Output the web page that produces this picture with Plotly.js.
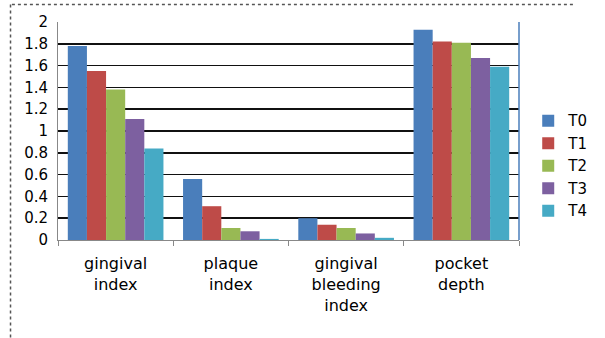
<!DOCTYPE html>
<html><head><meta charset="utf-8">
<script src="https://cdn.plot.ly/plotly-3.0.1.min.js"></script>
<style>html,body{margin:0;padding:0;background:#fff}#c{width:605px;height:338px}</style>
</head><body><div id="c"></div>
<script>
const categories = ["gingival<br>index", "plaque<br>index", "gingival<br>bleeding<br>index", "pocket<br>depth"];
const seriesNames = ["T0", "T1", "T2", "T3", "T4"];
const T0 = [1.78, 0.56, 0.20, 1.93];
const T1 = [1.55, 0.31, 0.14, 1.82];
const T2 = [1.38, 0.11, 0.11, 1.81];
const T3 = [1.11, 0.08, 0.06, 1.67];
const T4 = [0.84, 0.01, 0.02, 1.59];
const yTicks = [0, 0.2, 0.4, 0.6, 0.8, 1, 1.2, 1.4, 1.6, 1.8, 2];
const colors = ["#4a7ebb", "#be4b48", "#98b954", "#7d60a0", "#46aac5"];

const values = [T0, T1, T2, T3, T4];
const traces = values.map((v, i) => ({
  type: "bar", x: categories, y: v, name: seriesNames[i],
  marker: {color: colors[i]}
}));

const layout = {
  width: 605, height: 338,
  margin: {l: 58, r: 60, t: 22, b: 98},
  paper_bgcolor: "#fff", plot_bgcolor: "#fff",
  barmode: "group", bargap: 0.17, bargroupgap: 0,
  font: {family: "DejaVu Sans, Liberation Sans, sans-serif", color: "#000", size: 14},
  xaxis: {
    showline: true, linecolor: "#888", linewidth: 1,
    ticks: "outside", tickson: "boundaries", ticklen: 5, tickcolor: "#888",
    tickfont: {size: 16}, showgrid: false, ticklabelstandoff: 9
  },
  yaxis: {
    range: [0, 2], tickvals: yTicks, ticktext: yTicks.map(String),
    showgrid: true, gridcolor: "#111", gridwidth: 1.5,
    showline: true, linecolor: "#888", zeroline: false,
    tickfont: {size: 15}, ticks: "", ticklabelstandoff: 6
  },
  legend: {x: 1.02, y: 0.34, yanchor: "middle", xanchor: "left",
    font: {size: 15}, itemwidth: 30,
    bgcolor: "rgba(0,0,0,0)"},
  showlegend: true,
  shapes: [
    {type: "line", xref: "paper", yref: "paper", x0: 1, x1: 1, y0: 0, y1: 1,
     line: {color: "#4a7ebb", width: 1.5}},
    {type: "line", xref: "paper", yref: "paper", x0: -0.1, x1: 1.12, y0: 1.08, y1: 1.08,
     line: {color: "#555", width: 1.5, dash: "dot"}},
    {type: "line", xref: "paper", yref: "paper", x0: -0.103, x1: -0.103, y0: 1.08, y1: -0.45,
     line: {color: "#555", width: 1.5, dash: "dot"}}
  ]
};
Plotly.newPlot("c", traces, layout, {displayModeBar: false, staticPlot: true});
</script></body></html>
